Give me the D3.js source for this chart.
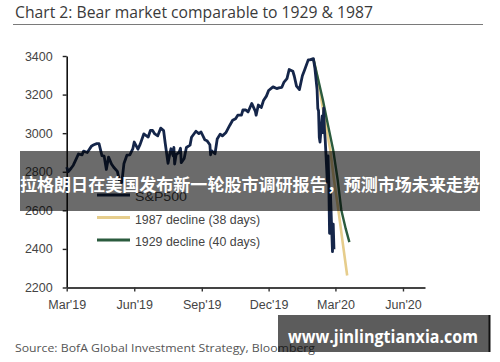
<!DOCTYPE html>
<html>
<head>
<meta charset="utf-8">
<script src="https://cdn.jsdelivr.net/npm/d3@7"></script>
<style>
  body { margin: 0; background: #fff; }
  svg { display: block; }
</style>
</head>
<body>
<div class="chart_wrapper"></div>
<script>

// data

const spxDates = [
  "2019-03-20","2019-03-22","2019-03-26","2019-03-29","2019-04-02","2019-04-05","2019-04-10","2019-04-12",
  "2019-04-17","2019-04-23","2019-04-26","2019-04-30","2019-05-03","2019-05-07","2019-05-10","2019-05-13",
  "2019-05-16","2019-05-20","2019-05-23","2019-05-28","2019-05-31","2019-06-03","2019-06-06","2019-06-10",
  "2019-06-14","2019-06-18","2019-06-20","2019-06-25","2019-06-28","2019-07-03","2019-07-09","2019-07-12",
  "2019-07-15","2019-07-18","2019-07-22","2019-07-26","2019-07-30","2019-08-01","2019-08-05","2019-08-07",
  "2019-08-09","2019-08-12","2019-08-13","2019-08-14","2019-08-16","2019-08-20","2019-08-22","2019-08-23",
  "2019-08-27","2019-08-30","2019-09-04","2019-09-06","2019-09-12","2019-09-16","2019-09-19","2019-09-24",
  "2019-09-27","2019-10-01","2019-10-02","2019-10-03","2019-10-08","2019-10-11","2019-10-15","2019-10-18",
  "2019-10-23","2019-10-28","2019-11-01","2019-11-05","2019-11-08","2019-11-13","2019-11-15","2019-11-19",
  "2019-11-22","2019-11-27","2019-12-02","2019-12-03","2019-12-06","2019-12-10","2019-12-13","2019-12-17",
  "2019-12-20","2019-12-26","2019-12-31","2020-01-03","2020-01-07","2020-01-10","2020-01-14","2020-01-17",
  "2020-01-22","2020-01-24","2020-01-27","2020-01-31","2020-02-04","2020-02-07","2020-02-12","2020-02-14",
  "2020-02-19","2020-02-21","2020-02-24","2020-02-25","2020-02-26","2020-02-27","2020-02-28","2020-03-02",
  "2020-03-03","2020-03-04","2020-03-05","2020-03-06","2020-03-09","2020-03-10","2020-03-11","2020-03-12",
  "2020-03-13","2020-03-16","2020-03-17","2020-03-18"
]

const spxValues = [
  2824, 2800, 2818, 2834, 2867, 2892, 2888, 2907,
  2900, 2934, 2940, 2946, 2946, 2884, 2881, 2812,
  2876, 2840, 2823, 2802, 2752, 2744, 2843, 2886,
  2887, 2918, 2954, 2917, 2942, 2996, 2980, 3014,
  3014, 2996, 2986, 3026, 3013, 2953, 2844, 2884,
  2919, 2883, 2926, 2840, 2889, 2900, 2922, 2847,
  2869, 2926, 2938, 2979, 3010, 2998, 3006, 2966,
  2961, 2940, 2888, 2910, 2893, 2970, 2995, 2986,
  3004, 3040, 3067, 3075, 3093, 3094, 3120, 3120,
  3110, 3154, 3113, 3093, 3146, 3133, 3169, 3192,
  3221, 3240, 3231, 3235, 3238, 3265, 3283, 3330,
  3321, 3295, 3244, 3226, 3298, 3328, 3380, 3380,
  3386, 3338, 3226, 3128, 3116, 2979, 2954, 3090,
  3003, 3130, 3024, 2972, 2747, 2882, 2741, 2481,
  2711, 2386, 2529, 2398
]

// declines drawn from the Feb 19 2020 peak: [calendar days after peak, level]
const peakDate = "2020-02-19"
const decline1987 = [[0, 3386], [6, 3280], [11, 3171], [17, 3040], [23, 2912], [28, 2760], [34, 2602], [40, 2430], [46, 2262]]
const decline1929 = [[0, 3386], [7, 3270], [13, 3171], [20, 3040], [27, 2912], [33, 2760], [38, 2602], [44, 2505], [49, 2435]]

const yTicks = [2200, 2400, 2600, 2800, 3000, 3200, 3400]
const xTickDates = ["2019-03-20", "2019-06-20", "2019-09-20", "2019-12-20", "2020-03-20", "2020-06-20"]

const legendItems = [
  { label: "S&P500", color: "#15264a" },
  { label: "1987 decline (38 days)", color: "#e6cd8c" },
  { label: "1929 decline (40 days)", color: "#2b5b3e" }
]

const titleText = "Chart 2: Bear market comparable to 1929 & 1987"
const sourceText = "Source: BofA Global Investment Strategy, Bloomberg"
const bannerText = "拉格朗日在美国发布新一轮股市调研报告，预测市场未来走势"
const watermarkText = "www.jinlingtianxia.com"


const parseDate = d3.timeParse("%Y-%m-%d")

const spx = spxDates.map((d, i) => ({ date: parseDate(d), value: spxValues[i] }))
const peak = parseDate(peakDate)
const toSeries = arr => arr.map(([days, v]) => ({ date: d3.timeDay.offset(peak, days), value: v }))
const s1987 = toSeries(decline1987)
const s1929 = toSeries(decline1929)


// draw canvas

const width = 500
const height = 362

const wrapper = d3.select(".chart_wrapper")
  .append("svg")
    .attr("width", width)
    .attr("height", height)

const plot = { left: 66.7, right: 425, top: 56, bottom: 287.5 }


// scales

const xScale = d3.scaleTime()
  .domain([parseDate("2019-03-20"), parseDate("2020-07-20")])
  .range([plot.left, plot.right])

const yScale = d3.scaleLinear()
  .domain([2200, 3400])
  .range([plot.bottom, plot.top])


// title

wrapper.append("text")
  .attr("x", 15)
  .attr("y", 18)
  .attr("font-family", "'Open Sans', sans-serif")
  .attr("font-size", 15.5)
  .attr("fill", "#3a3a3a")
  .attr("textLength", 358)
  .attr("lengthAdjust", "spacingAndGlyphs")
  .text(titleText)

wrapper.append("line")
  .attr("x1", 13).attr("x2", 483)
  .attr("y1", 24.5).attr("y2", 24.5)
  .attr("stroke", "#7a7a7a")
  .attr("stroke-width", 1)


// axes

const yAxis = wrapper.append("g")
  .attr("transform", `translate(${plot.left},0)`)
  .call(d3.axisLeft(yScale)
    .tickValues(yTicks)
    .tickFormat(d3.format("d"))
    .tickSize(4)
    .tickSizeOuter(0)
    .tickPadding(10))

yAxis.select(".domain").attr("stroke", "#111").attr("stroke-width", 1.6)
yAxis.selectAll(".tick line").attr("stroke", "#222").attr("stroke-width", 1.4)
yAxis.selectAll(".tick text")
  .attr("font-family", "'Liberation Sans', Arial, sans-serif")
  .attr("font-size", 12.5)
  .attr("fill", "#444")

const xAxis = wrapper.append("g")
  .attr("transform", `translate(0,${plot.bottom})`)
  .call(d3.axisBottom(xScale)
    .tickValues(xTickDates.map(parseDate))
    .tickFormat(d3.timeFormat("%b'%y"))
    .tickSize(4)
    .tickSizeOuter(0)
    .tickPadding(9))

xAxis.select(".domain").attr("stroke", "#444").attr("stroke-width", 2)
xAxis.selectAll(".tick line").attr("stroke", "#333").attr("stroke-width", 1.4)
xAxis.selectAll(".tick text")
  .attr("font-family", "'Liberation Sans', Arial, sans-serif")
  .attr("font-size", 12.5)
  .attr("fill", "#444")


// lines

const lineGen = d3.line()
  .x(d => xScale(d.date))
  .y(d => yScale(d.value))

wrapper.append("path")
  .datum(s1987)
  .attr("d", lineGen)
  .attr("fill", "none")
  .attr("stroke", legendItems[1].color)
  .attr("stroke-width", 2.6)

wrapper.append("path")
  .datum(s1929)
  .attr("d", lineGen)
  .attr("fill", "none")
  .attr("stroke", legendItems[2].color)
  .attr("stroke-width", 2.4)

wrapper.append("path")
  .datum(spx)
  .attr("d", lineGen)
  .attr("fill", "none")
  .attr("stroke", legendItems[0].color)
  .attr("stroke-width", 2.8)
  .attr("stroke-linejoin", "round")


// legend

const legend = wrapper.append("g")
  .selectAll("g")
  .data(legendItems)
  .join("g")
    .attr("transform", (d, i) => `translate(97,${195 + i * 22.5})`)

legend.append("line")
  .attr("x1", 0).attr("x2", 33)
  .attr("stroke", d => d.color)
  .attr("stroke-width", 3)

legend.append("text")
  .attr("x", 38)
  .attr("y", 6)
  .attr("font-family", "'Liberation Sans', Arial, sans-serif")
  .attr("font-size", 13.5)
  .attr("fill", "#444")
  .attr("textLength", (d, i) => i === 0 ? 52 : 125)
  .attr("lengthAdjust", "spacingAndGlyphs")
  .text(d => d.label)


// source

wrapper.append("text")
  .attr("x", 15)
  .attr("y", 352)
  .attr("font-family", "'Open Sans', sans-serif")
  .attr("font-size", 11.5)
  .attr("fill", "#555")
  .attr("textLength", 300)
  .attr("lengthAdjust", "spacingAndGlyphs")
  .text(sourceText)


// overlays (banner and watermark sit over the chart, as in the picture)

wrapper.append("rect")
  .attr("x", 20).attr("y", 151)
  .attr("width", 460).attr("height", 60)
  .attr("fill", "#000")
  .attr("fill-opacity", 0.58)

wrapper.append("text")
  .attr("x", 250)
  .attr("y", 191)
  .attr("text-anchor", "middle")
  .attr("font-family", "'Noto Sans CJK SC', sans-serif")
  .attr("font-weight", "bold")
  .attr("font-size", 17)
  .attr("fill", "#fff")
  .attr("textLength", 460)
  .attr("lengthAdjust", "spacingAndGlyphs")
  .text(bannerText)

wrapper.append("rect")
  .attr("x", 278).attr("y", 315)
  .attr("width", 211).attr("height", 37)
  .attr("fill", "#000")
  .attr("fill-opacity", 0.64)

wrapper.append("line")
  .attr("x1", 489.5).attr("x2", 489.5)
  .attr("y1", 315).attr("y2", 352)
  .attr("stroke", "#111")
  .attr("stroke-width", 2)

wrapper.append("text")
  .attr("x", 288)
  .attr("y", 343)
  .attr("font-family", "'Open Sans', sans-serif")
  .attr("font-weight", "bold")
  .attr("font-size", 17)
  .attr("fill", "#fff")
  .attr("textLength", 190)
  .attr("lengthAdjust", "spacingAndGlyphs")
  .text(watermarkText)

</script>
</body>
</html>
